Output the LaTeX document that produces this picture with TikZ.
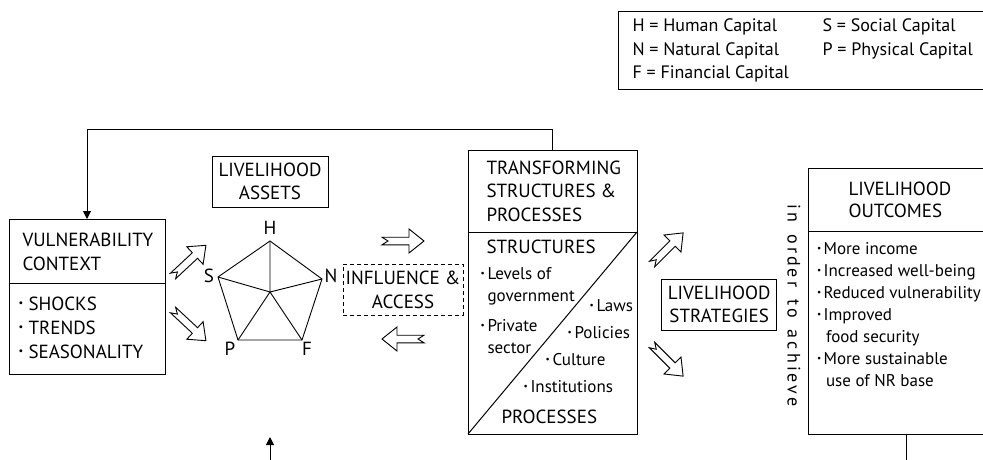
\documentclass[tikz,border=0pt]{standalone}
\usepackage{fontspec}
\setmainfont{PT Sans}
\usepackage{graphicx}
\usetikzlibrary{arrows.meta}
\newcommand\bu[1][7pt]{\makebox[#1][l]{\raisebox{0.2em}{\scalebox{0.55}{•}}}}
\newcommand\wsp{\hspace{12pt}}
\begin{document}
\begin{tikzpicture}[x=1pt,y=-1pt, line width=1pt,
  box/.style={draw, rectangle, inner sep=0pt, outer sep=0pt, anchor=north west},
  big/.style={font=\fontsize{19}{24}\selectfont},
  small/.style={font=\fontsize{17}{21.5}\selectfont},
  txt/.style={inner sep=0pt, anchor=north west, align=left},
  tip/.style={-{Triangle[length=8pt,width=8pt]}},
  harrow/.pic={\draw[line width=0.9pt, fill=white] (0,-3.8) -- ({#1-15},-3.8) -- ({#1-15},-12) -- (#1,0) -- ({#1-15},12) -- ({#1-15},3.8) -- (0,3.8) -- (6,0) -- cycle;}]
\useasboundingbox (0,0) rectangle (983,459);

% legend
\node[box, minimum width=380pt, minimum height=78pt] (leg) at (618,11) {};
\node[txt, font=\fontsize{18}{23.5}\selectfont] (legA) at (632,18.5) {H = Human Capital\\N = Natural Capital\\F = Financial Capital};
\node[txt, font=\fontsize{18}{23.5}\selectfont] (legB) at (822,18.5) {S = Social Capital\\P = Physical Capital};

% vulnerability context
\node[box, minimum width=156pt, minimum height=155pt] (vul) at (9,219) {};
\draw (vul.west |- 0,283) -- (vul.east |- 0,283);
\node[txt, big] (vt) at (22,232.5) {VULNERABILITY\\CONTEXT};
\node[txt, big] (vb) at (18,296.5) {\bu[10pt]SHOCKS\\\bu[10pt]TRENDS\\\bu[10pt]SEASONALITY};

% livelihood assets
\node[draw, align=center, inner sep=0pt, minimum width=116pt, minimum height=51pt, font=\fontsize{19}{23}\selectfont] (assets) at (270,181.5) {LIVELIHOOD\\ASSETS};

% pentagon
\coordinate (H) at (270,241);
\coordinate (N) at (322,279);
\coordinate (F) at (302,340);
\coordinate (P) at (238,340);
\coordinate (S) at (218,277);
\coordinate (C) at (270,292);
\draw[line width=0.9pt] (H) -- (N) -- (F) -- (P) -- (S) -- cycle;
\draw[line width=0.9pt] (C) -- (H) (C) -- (N) (C) -- (F) (C) -- (P) (C) -- (S);
\node[big, inner sep=0pt] (lH) at (270,228) {H};
\node[big, inner sep=0pt] (lS) at (209,276) {S};
\node[big, inner sep=0pt] (lN) at (331,276) {N};
\node[big, inner sep=0pt] (lP) at (230,349) {P};
\node[big, inner sep=0pt] (lF) at (307,349) {F};

% influence & access
\node[draw, dashed, dash pattern=on 4pt off 3pt, line width=0.9pt, align=center, inner sep=0pt, minimum width=120pt, minimum height=51pt, big] (infl) at (403,289.5) {INFLUENCE \&\\ACCESS};

% transforming structures
\node[box, minimum width=169pt, minimum height=284pt] (trans) at (468,150) {};
\draw (trans.west |- 0,232) -- (trans.east |- 0,232);
\draw (trans.south west) -- (trans.east |- 0,232);
\node[txt, font=\fontsize{19}{23.8}\selectfont] (tt) at (486,160) {TRANSFORMING\\STRUCTURES \&\\PROCESSES};
\node[txt, big] (ts) at (486,239) {STRUCTURES};
\node[txt, small] (tl) at (480,267) {\bu Levels of\\\hspace*{7pt}government};
\node[txt, small] (tp) at (480,319) {\bu Private\\\hspace*{7pt}sector};
\node[txt, small] (tlaws) at (589,299) {\bu Laws};
\node[txt, small] (tpol) at (567,326) {\bu Policies};
\node[txt, small] (tcul) at (545,353) {\bu Culture};
\node[txt, small] (tins) at (523,380) {\bu Institutions};
\node[txt, big] (tproc) at (501,409) {PROCESSES};

% livelihood strategies
\node[draw, align=center, inner sep=0pt, minimum width=115pt, minimum height=51pt, font=\fontsize{19}{23.4}\selectfont] (strat) at (719.2,304.5) {LIVELIHOOD\\STRATEGIES};

% in order to achieve
\node[inner sep=0pt, rotate=-90, font=\fontsize{18}{20}\selectfont\addfontfeature{LetterSpace=17}] (ach) at (794,305.5) {in\wsp order\wsp to\wsp achieve};

% livelihood outcomes
\node[box, minimum width=190pt, minimum height=266pt] (out) at (808,168) {};
\draw (out.west |- 0,231) -- (out.east |- 0,231);
\node[txt, font=\fontsize{19}{22}\selectfont] (ot) at (848,181.5) {LIVELIHOOD\\OUTCOMES};
\node[txt, font=\fontsize{17}{22}\selectfont] (ob) at (816.5,242.3) {\bu[6.6pt]More income\\\bu[6.6pt]Increased well-being\\\bu[6.6pt]Reduced vulnerability\\\bu[6.6pt]Improved\\\hspace*{9pt}food security\\\bu[6.6pt]More sustainable\\\hspace*{9pt}use of NR base};

% hollow arrows
\pic[rotate=43] at (173,276) {harrow=45};
\pic[rotate=-43] at (173,310) {harrow=45};
\pic at (382,241) {harrow=42};
\pic[rotate=180] at (424,339) {harrow=42};
\pic[rotate=45] at (652,264) {harrow=44};
\pic[rotate=-45] at (652,345) {harrow=44};

% connectors
\draw[tip] (trans.north) -- ++(0,-21) -| (vul.north);
\coordinate (upS) at (270,462);
\coordinate (upE) at (270,437);
\draw[tip] (upS) -- (upE);
\coordinate (outE) at (906,462);
\draw (out.south -| outE) -- (outE);
\end{tikzpicture}
\end{document}
